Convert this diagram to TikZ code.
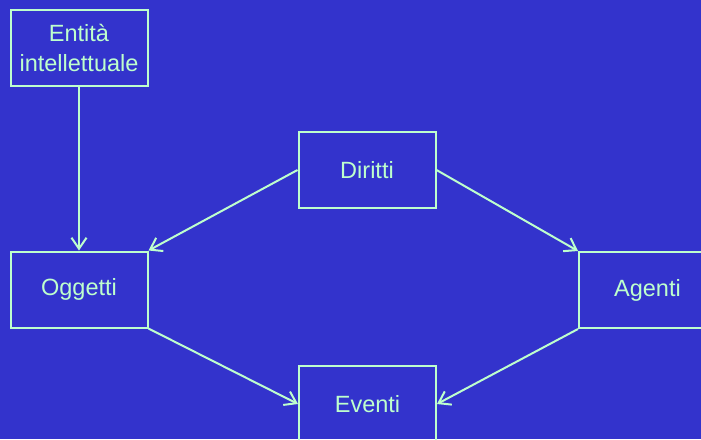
\documentclass[tikz,border=0pt]{standalone}
\usepackage{fontspec}
\setmainfont{Liberation Sans}
\usetikzlibrary{arrows.meta}
\definecolor{slideblue}{RGB}{51,51,204}
\definecolor{mint}{RGB}{190,255,205}
\tikzset{
	box/.style={draw=mint, line width=2pt, text=mint, minimum width=137pt, minimum height=76pt, inner sep=0pt, align=center, font=\fontsize{23.5}{30}\selectfont},
	link/.style={mint, line width=2pt, -{Straight Barb[length=11pt,width=15pt,line width=2pt]}}
}
\begin{document}
\begin{tikzpicture}[x=1pt, y=-1pt]
		\fill[slideblue] (0,0) rectangle (701,439);
		\clip (0,0) rectangle (701,439);
		
		\node[box] (ent) at (79, 48){Entit\`a\\intellettuale};
		\node[box] (dir) at (367, 170){Diritti};
		\node[box] (ogg) at (79, 289.5){Oggetti};
		\node[box] (age) at (647.5, 290){Agenti};
		\node[box] (eve) at (367.5, 404){Eventi};
		
		\draw[link] (ent.south) -- (ogg.north);
		\draw[link] (dir.west) -- (ogg.north east);
		\draw[link] (dir.east) -- (age.north west);
		\draw[link] (ogg.south east) -- (eve.west);
		\draw[link] (age.south west) -- (eve.east);
	\end{tikzpicture}
\end{document}
